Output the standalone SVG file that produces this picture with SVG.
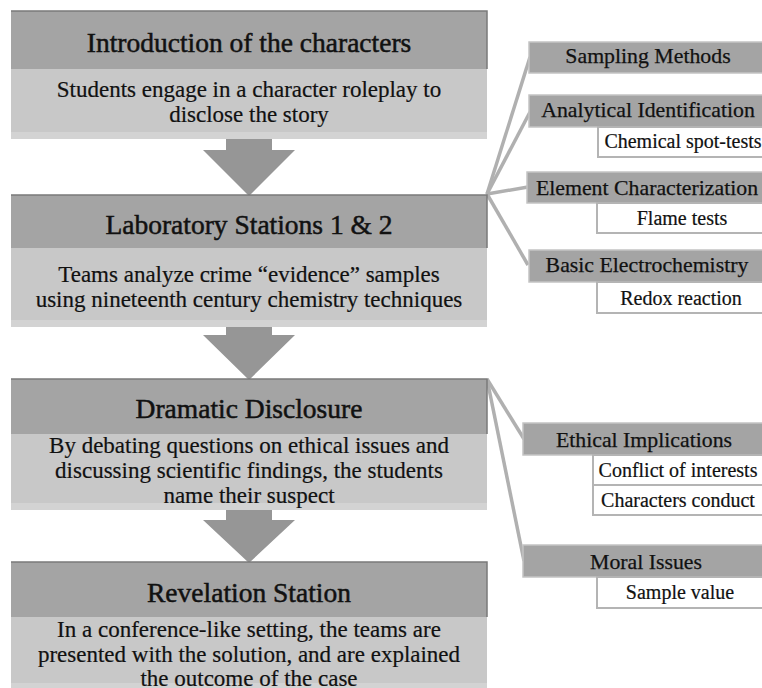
<svg xmlns="http://www.w3.org/2000/svg" width="762" height="688" viewBox="0 0 762 688">
<style>
.bg{fill:#ffffff}
.hd{fill:#a4a4a4}
.bd{fill:#c8c8c8}
.st{fill:#d3d3d3}
.edge{fill:none;stroke:#7a7a7a;stroke-width:1.5}
.arr{fill:#969696}
.gbox{fill:#a4a4a4;stroke:#c4c4c4;stroke-width:1.5}
.wbox{fill:#ffffff;stroke:#b4b4b4;stroke-width:2}
.con{fill:none;stroke:#b0b0b0;stroke-width:3.5}
text{fill:#111;text-anchor:middle}
.h{font-size:27.5px;stroke:#111;stroke-width:0.5}
.b{font-size:23px;stroke:#111;stroke-width:0.2}
.g{font-size:21.8px;stroke:#111;stroke-width:0.25}
.w{font-size:20px;stroke:#111;stroke-width:0.2}
</style>
<rect class="bg" x="0" y="0" width="762" height="688"/>
<g id="connectors">
<line class="con" x1="487" y1="194" x2="530" y2="57"/>
<line class="con" x1="487" y1="194" x2="530" y2="112"/>
<line class="con" x1="487" y1="194" x2="528" y2="187"/>
<line class="con" x1="487" y1="194" x2="528" y2="265"/>
<line class="con" x1="487" y1="379" x2="524" y2="439"/>
<line class="con" x1="487" y1="379" x2="524" y2="561"/>
</g>
<g id="arrow1"><polygon class="arr" points="226,132 272,132 272,150 295,150 249,196 203,150 226,150"/></g>
<g id="arrow2"><polygon class="arr" points="226,327 272,327 272,335 295,335 249,380 203,335 226,335"/></g>
<g id="arrow3"><polygon class="arr" points="226,510 272,510 272,520 295,520 249,563 203,520 226,520"/></g>
<g font-family="'Liberation Serif', Tinos, 'Times New Roman', 'DejaVu Serif', serif">
<g id="intro">
<rect class="hd" x="11" y="11" width="476" height="58"/>
<rect class="bd" x="11" y="69" width="476" height="63"/>
<rect class="st" x="11" y="132" width="476" height="7"/>
<polyline class="edge" points="11,11 487,11 487,69"/>
<text class="h" x="249" y="52">Introduction of the characters</text>
<text class="b" x="249" y="97">Students engage in a character roleplay to</text>
<text class="b" x="249" y="122">disclose the story</text>
</g>
<g id="lab">
<rect class="hd" x="11" y="195" width="476" height="53"/>
<rect class="bd" x="11" y="248" width="476" height="72"/>
<rect class="st" x="11" y="320" width="476" height="7"/>
<polyline class="edge" points="11,195 487,195 487,248"/>
<text class="h" x="249" y="234">Laboratory Stations 1 &amp; 2</text>
<text class="b" x="249" y="282">Teams analyze crime “evidence” samples</text>
<text class="b" x="249" y="307">using nineteenth century chemistry techniques</text>
</g>
<g id="drama">
<rect class="hd" x="11" y="379" width="476" height="55"/>
<rect class="bd" x="11" y="434" width="476" height="69"/>
<rect class="st" x="11" y="503" width="476" height="7"/>
<polyline class="edge" points="11,379 487,379 487,434"/>
<text class="h" x="249" y="418">Dramatic Disclosure</text>
<text class="b" x="249" y="453">By debating questions on ethical issues and</text>
<text class="b" x="249" y="478">discussing scientific findings, the students</text>
<text class="b" x="249" y="503">name their suspect</text>
</g>
<g id="revelation">
<rect class="hd" x="11" y="562" width="476" height="55"/>
<rect class="bd" x="11" y="617" width="476" height="66"/>
<rect class="st" x="11" y="683" width="476" height="7"/>
<polyline class="edge" points="11,562 487,562 487,617"/>
<text class="h" x="249" y="602">Revelation Station</text>
<text class="b" x="249" y="637">In a conference-like setting, the teams are</text>
<text class="b" x="249" y="662">presented with the solution, and are explained</text>
<text class="b" x="249" y="686">the outcome of the case</text>
</g>
<g id="sampling">
<rect class="gbox" x="529" y="42" width="238" height="31"/>
<text class="g" x="648" y="63">Sampling Methods</text>
</g>
<g id="analytical">
<rect class="gbox" x="529" y="95" width="238" height="32"/>
<text class="g" x="648" y="117">Analytical Identification</text>
</g>
<g id="spot">
<rect class="wbox" x="598" y="127" width="169" height="30"/>
<text class="w" x="683" y="148">Chemical spot-tests</text>
</g>
<g id="element">
<rect class="gbox" x="527" y="172" width="240" height="31"/>
<text class="g" x="647" y="195">Element Characterization</text>
</g>
<g id="flame">
<rect class="wbox" x="597" y="203" width="170" height="30"/>
<text class="w" x="682" y="225">Flame tests</text>
</g>
<g id="electro">
<rect class="gbox" x="529" y="250" width="238" height="32"/>
<text class="g" x="647" y="272">Basic Electrochemistry</text>
</g>
<g id="redox">
<rect class="wbox" x="597" y="282" width="170" height="31"/>
<text class="w" x="681" y="305">Redox reaction</text>
</g>
<g id="ethical">
<rect class="gbox" x="523" y="423" width="244" height="32"/>
<text class="g" x="644" y="447">Ethical Implications</text>
</g>
<g id="conflict">
<rect class="wbox" x="593" y="455" width="174" height="30"/>
<text class="w" x="678" y="477">Conflict of interests</text>
</g>
<g id="conduct">
<rect class="wbox" x="593" y="485" width="174" height="30"/>
<text class="w" x="678" y="507">Characters conduct</text>
</g>
<g id="moral">
<rect class="gbox" x="523" y="545" width="244" height="32"/>
<text class="g" x="646" y="569">Moral Issues</text>
</g>
<g id="sample">
<rect class="wbox" x="597" y="577" width="170" height="31"/>
<text class="w" x="680" y="599">Sample value</text>
</g>
</g>
</svg>
